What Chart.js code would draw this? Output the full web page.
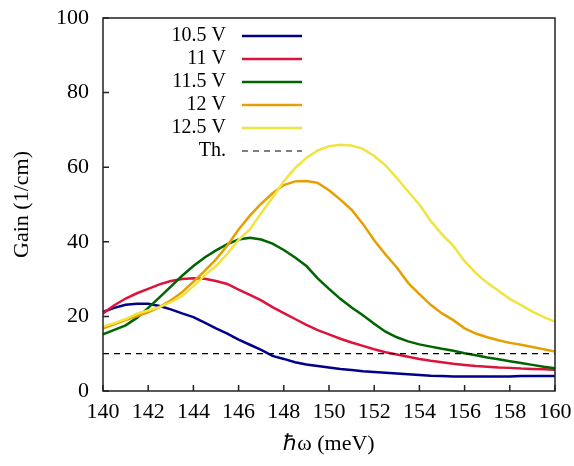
<!DOCTYPE html>
<html>
<head>
<meta charset="utf-8">
<script src="https://cdn.jsdelivr.net/npm/chart.js@4/dist/chart.umd.min.js"></script>
<style>
  body { margin: 0; background: #fff; }
</style>
</head>
<body>
<canvas id="gainChart" width="574" height="466"></canvas>
<script>
// Photon energy (meV)
const energy = [140, 140.5, 141, 141.5, 142, 142.5, 143, 143.5, 144, 144.5, 145, 145.5, 146, 146.5, 147, 147.5,
  148, 148.5, 149, 149.5, 150, 150.5, 151, 151.5, 152, 152.5, 153, 153.5, 154, 154.5, 155, 155.5, 156, 156.5,
  157, 157.5, 158, 158.5, 159, 159.5, 160];

// Gain (1/cm) for each bias voltage
const gain105 = [21.2, 22.3, 23.1, 23.4, 23.4, 22.8, 21.9, 20.8, 19.8, 18.3, 16.8, 15.4, 13.8, 12.4, 11.0, 9.4,
  8.6, 7.7, 7.1, 6.7, 6.3, 5.9, 5.6, 5.3, 5.1, 4.9, 4.7, 4.5, 4.3, 4.1, 4.0, 3.9, 3.9, 3.9,
  3.9, 3.9, 3.9, 4.0, 4.0, 4.0, 4.0];
const gain11 = [20.8, 23.0, 24.8, 26.2, 27.4, 28.6, 29.5, 30.0, 30.2, 30.1, 29.5, 28.7, 27.2, 25.8, 24.3, 22.5,
  20.9, 19.3, 17.7, 16.3, 15.2, 14.0, 13.0, 12.1, 11.2, 10.4, 9.8, 9.2, 8.6, 8.1, 7.7, 7.3, 7.0, 6.7,
  6.5, 6.3, 6.2, 6.0, 5.9, 5.8, 5.7];
const gain115 = [15.2, 16.4, 17.6, 19.6, 22.3, 25.1, 28.0, 30.9, 33.5, 35.8, 37.7, 39.4, 40.6, 41.1, 40.6, 39.5,
  37.8, 35.8, 33.5, 30.2, 27.4, 24.7, 22.4, 20.3, 18.0, 15.9, 14.4, 13.3, 12.5, 11.9, 11.3, 10.8, 10.1, 9.6,
  9.0, 8.5, 8.0, 7.5, 7.0, 6.5, 6.1];
const gain12 = [16.8, 17.9, 19.0, 20.1, 21.1, 22.5, 24.3, 26.5, 29.3, 32.2, 35.3, 39.0, 43.3, 47.0, 50.2, 53.0,
  55.2, 56.2, 56.3, 55.8, 53.8, 51.3, 48.6, 44.8, 40.4, 36.6, 33.1, 29.0, 26.0, 23.1, 20.8, 19.0, 16.8, 15.4,
  14.4, 13.6, 12.9, 12.4, 11.8, 11.2, 10.6];
const gain125 = [17.3, 18.2, 19.3, 20.7, 21.6, 22.5, 23.8, 25.5, 28.1, 31.0, 33.5, 36.8, 40.5, 43.3, 47.7, 51.8,
  56.2, 59.8, 62.5, 64.5, 65.6, 66.0, 65.8, 64.9, 63.0, 60.5, 57.1, 53.5, 50.0, 45.6, 42.0, 38.9, 34.8, 31.6,
  29.0, 26.9, 24.7, 23.0, 21.3, 19.8, 18.6];

// Threshold line
const thresholdX = [140, 160];
const thresholdY = [10, 10];

const seriesLabels = ['10.5 V', '11 V', '11.5 V', '12 V', '12.5 V', 'Th.'];
const seriesColors = ['#00008b', '#dc143c', '#006400', '#e69f00', '#f0e442', '#000000'];

const xTicks = [140, 142, 144, 146, 148, 150, 152, 154, 156, 158, 160];
const yTicks = [0, 20, 40, 60, 80, 100];

const FONT = '"Liberation Serif", "Times New Roman", serif';

function toPoints(xs, ys) {
  return xs.map((x, i) => ({ x: x, y: ys[i] }));
}

const curves = [gain105, gain11, gain115, gain12, gain125];
const datasets = curves.map((ys, i) => ({
  label: seriesLabels[i],
  data: toPoints(energy, ys),
  borderColor: seriesColors[i],
  borderWidth: 2.5,
  pointRadius: 0,
  tension: 0,
  fill: false,
  order: 10 - i
}));
datasets.push({
  label: seriesLabels[5],
  data: toPoints(thresholdX, thresholdY),
  borderColor: seriesColors[5],
  borderWidth: 1.2,
  borderDash: [6, 5],
  pointRadius: 0,
  fill: false,
  order: 0
});

// Frame, inward ticks and the gnuplot-style key
const framePlugin = {
  id: 'frame',
  afterDatasetsDraw(chart) {
    const ctx = chart.ctx;
    const area = chart.chartArea;
    const xs = chart.scales.x;
    const ys = chart.scales.y;
    ctx.save();
    ctx.strokeStyle = '#222';
    ctx.lineWidth = 1.5;
    ctx.setLineDash([]);
    ctx.strokeRect(area.left, area.top, area.right - area.left, area.bottom - area.top);
    ctx.beginPath();
    xTicks.forEach(v => {
      const px = xs.getPixelForValue(v);
      ctx.moveTo(px, area.bottom);
      ctx.lineTo(px, area.bottom - 6);
    });
    yTicks.forEach(v => {
      const py = ys.getPixelForValue(v);
      ctx.moveTo(area.left, py);
      ctx.lineTo(area.left + 6, py);
    });
    ctx.stroke();

    // key
    ctx.font = '20px ' + FONT;
    ctx.textAlign = 'right';
    ctx.textBaseline = 'middle';
    chart.data.datasets.forEach((ds, i) => {
      const y = 36 + i * 23;
      ctx.fillStyle = '#000';
      ctx.fillText(ds.label, 226, y);
      ctx.strokeStyle = ds.borderColor;
      ctx.lineWidth = ds.borderWidth;
      ctx.setLineDash(ds.borderDash || []);
      ctx.beginPath();
      ctx.moveTo(242, y);
      ctx.lineTo(302, y);
      ctx.stroke();
    });
    ctx.restore();
  }
};

new Chart(document.getElementById('gainChart'), {
  type: 'line',
  data: { datasets: datasets },
  options: {
    responsive: false,
    devicePixelRatio: 1,
    animation: false,
    layout: { padding: { left: 0, top: 18, right: 19, bottom: 0 } },
    plugins: {
      legend: { display: false },
      tooltip: { enabled: false }
    },
    scales: {
      x: {
        type: 'linear',
        min: 140,
        max: 160,
        afterFit: s => { s.height = 75; s.paddingLeft = 0; s.paddingRight = 0; },
        afterBuildTicks: s => { s.ticks = xTicks.map(v => ({ value: v })); },
        grid: { display: false, drawTicks: false },
        border: { display: false },
        ticks: {
          color: '#000',
          font: { family: FONT, size: 22 },
          padding: 8,
          maxRotation: 0
        },
        title: {
          display: true,
          text: 'ℏω (meV)',
          color: '#000',
          font: { family: FONT, size: 22 },
          padding: { top: 4, bottom: 9 }
        }
      },
      y: {
        min: 0,
        max: 100,
        afterFit: s => { s.width = 103; s.paddingTop = 0; s.paddingBottom = 0; },
        afterBuildTicks: s => { s.ticks = yTicks.map(v => ({ value: v })); },
        grid: { display: false, drawTicks: false },
        border: { display: false },
        ticks: {
          color: '#000',
          font: { family: FONT, size: 22 },
          padding: 14
        },
        title: {
          display: true,
          text: 'Gain (1/cm)',
          color: '#000',
          font: { family: FONT, size: 22 },
          padding: { top: 9, bottom: 0 }
        }
      }
    }
  },
  plugins: [framePlugin]
});
</script>
</body>
</html>
